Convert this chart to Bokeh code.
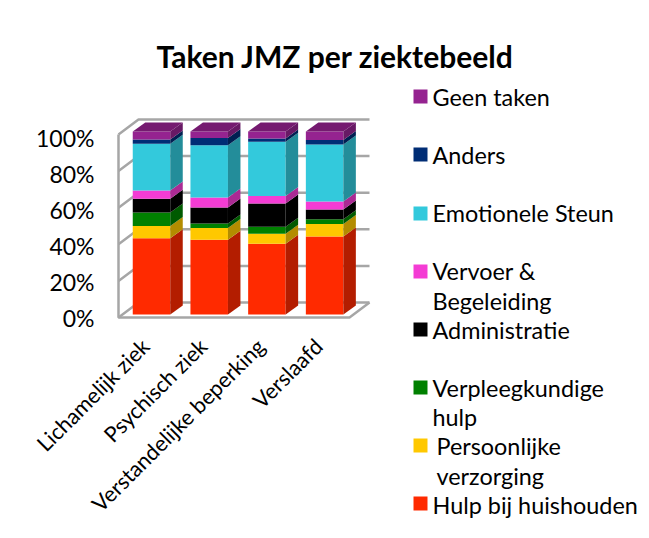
import numpy as np
from bokeh.plotting import figure
from bokeh.models import Range1d, LinearAxis, FixedTicker, Title, PrintfTickFormatter
from bokeh.core.properties import value
from bokeh.embed import file_html
from bokeh.resources import INLINE

categories = ["Lichamelijk ziek", "Psychisch ziek", "Verstandelijke beperking", "Verslaafd"]
hulp = [41.7, 40.8, 38.6, 42.6]
persoonlijk = [6.6, 6.4, 5.5, 6.9]
verpleeg = [7.4, 2.5, 3.8, 2.6]
administratie = [7.5, 8.8, 12.8, 5.3]
vervoer = [4.6, 5.4, 4.0, 4.3]
emotioneel = [25.5, 28.6, 29.7, 31.2]
anders = [2.3, 4.0, 1.8, 2.5]
geen = [4.4, 3.5, 3.8, 4.6]
y_ticks = [0, 20, 40, 60, 80, 100]

series = [hulp, persoonlijk, verpleeg, administratie, vervoer, emotioneel, anders, geen]
front = ["#FF2A00", "#FFC800", "#008000", "#000000", "#F43CD4", "#33C9DC", "#002D75", "#952390"]
side = ["#B31D00", "#B38C00", "#005A00", "#000000", "#AB2A94", "#238D9A", "#002052", "#681965"]
top_col = "#751A70"
WALL = "#A6A6A6"
FONT = "Lato"

# page geometry
W, H, M, TOP = 645, 534, 0, 73
XU, YU = 57.7, 1.83
X0, Y0 = 151.0, 314.0
fx = lambda px: (px - X0) / XU
fy = lambda py: (Y0 - py) / YU

p = figure(width=W, height=H, output_backend="svg", toolbar_location=None,
           x_range=Range1d(fx(M), fx(M + W)), y_range=Range1d(fy(M + H), fy(M + TOP)),
           min_border_left=0, min_border_right=0, min_border_bottom=0, min_border_top=TOP,
           outline_line_color=None, x_axis_type=None, y_axis_type=None)
p.grid.visible = False
p.background_fill_color = "white"
p.border_fill_color = "white"

title = Title(text="Taken JMZ per ziektebeeld", align="left", offset=156, standoff=0,
              text_font=FONT, text_font_size="30px", text_font_style="bold", text_color="#000000")
p.add_layout(title, "above")

# walls
WX0, WX1 = fx(118), fx(349)
DDX, DDY = 20 / XU, 15 / YU      # depth of the walls
WOFF = -3 / YU                   # wall front baseline relative to the bars
xs, ys = [], []
for t in y_ticks:
    y = t + WOFF
    xs.append([WX0, WX0 + DDX, WX1 + DDX])
    ys.append([y, y + DDY, y + DDY])
xs.append([WX0, WX0, WX1, WX1 + DDX])
ys.append([100 + WOFF, WOFF, WOFF, WOFF + DDY])
p.multi_line(xs, ys, line_color=WALL, line_width=2.5)

# bars
cats = np.arange(len(categories), dtype=float)
BW = 37.5 / XU
BDX, BDY = 12.5 / XU, 9 / YU
bottoms = np.zeros(len(categories))
for vals, fc, sc in zip(series, front, side):
    vals = np.array(vals)
    tops = bottoms + vals
    l, r = cats - BW / 2, cats + BW / 2
    p.quad(left=l, right=r, bottom=bottoms, top=tops, fill_color=fc, line_color=None)
    p.patches([[a, a + BDX, a + BDX, a] for a in r],
              [[b, b + BDY, t + BDY, t] for b, t in zip(bottoms, tops)],
              fill_color=sc, line_color=None)
    bottoms = tops
l, r = cats - BW / 2, cats + BW / 2
p.patches([[a, b, b + BDX, a + BDX] for a, b in zip(l, r)],
          [[t, t, t + BDY, t + BDY] for t in bottoms],
          fill_color=top_col, line_color=None)

# axes
p.extra_y_ranges = {"front": Range1d((317 - (M + H)) / 1.80, (317 - (M + TOP)) / 1.80)}
LABEL_SHIFT = 6
p.extra_x_ranges = {"labels": Range1d((M + LABEL_SHIFT - X0) / XU, (M + W + LABEL_SHIFT - X0) / XU)}
ya = LinearAxis(y_range_name="front", ticker=FixedTicker(ticks=y_ticks),
                formatter=PrintfTickFormatter(format="%d%%"), fixed_location=fx(100),
                axis_line_color=None, major_tick_line_color=None, minor_tick_line_color=None,
                major_label_standoff=0, major_label_text_font=FONT,
                major_label_text_font_size="23px", major_label_text_color="#000000")
p.add_layout(ya, "left")
xa = LinearAxis(x_range_name="labels", ticker=FixedTicker(ticks=list(range(len(categories)))),
                major_label_overrides={i: c for i, c in enumerate(categories)},
                fixed_location=fy(328), major_label_orientation=np.pi / 4,
                axis_line_color=None, major_tick_line_color=None, minor_tick_line_color=None,
                major_label_standoff=8, major_label_text_font=FONT,
                major_label_text_font_size="21.7px", major_label_text_color="#000000")
p.add_layout(xa, "below")

# legend
leg_labels = ["Geen taken", "Anders", "Emotionele Steun", "Vervoer &", "Begeleiding", "Administratie",
              "Verpleegkundige", "hulp", "Persoonlijke", "verzorging", "Hulp bij huishouden"]
leg_text_x = [432, 432, 432, 432, 432, 432, 432, 432, 436, 436, 432]
leg_text_y = [96, 154, 212, 270, 300, 329, 387, 416, 445, 475, 504]
leg_cols = [front[7], front[6], front[5], front[4], front[3], front[2], front[1], front[0]]
leg_box_y = [96, 154, 213, 271, 329, 387, 445, 503]
p.rect([fx(420)] * 8, [fy(v) for v in leg_box_y], width=14, height=14,
       width_units="screen", height_units="screen", fill_color=leg_cols, line_color=None)
p.text([fx(v) for v in leg_text_x], [fy(v) for v in leg_text_y], text=leg_labels,
       text_font=value(FONT), text_font_size="23.4px", text_baseline="middle", text_align="left",
       text_color="#000000")

open("out.html", "w").write(file_html(p, INLINE))
